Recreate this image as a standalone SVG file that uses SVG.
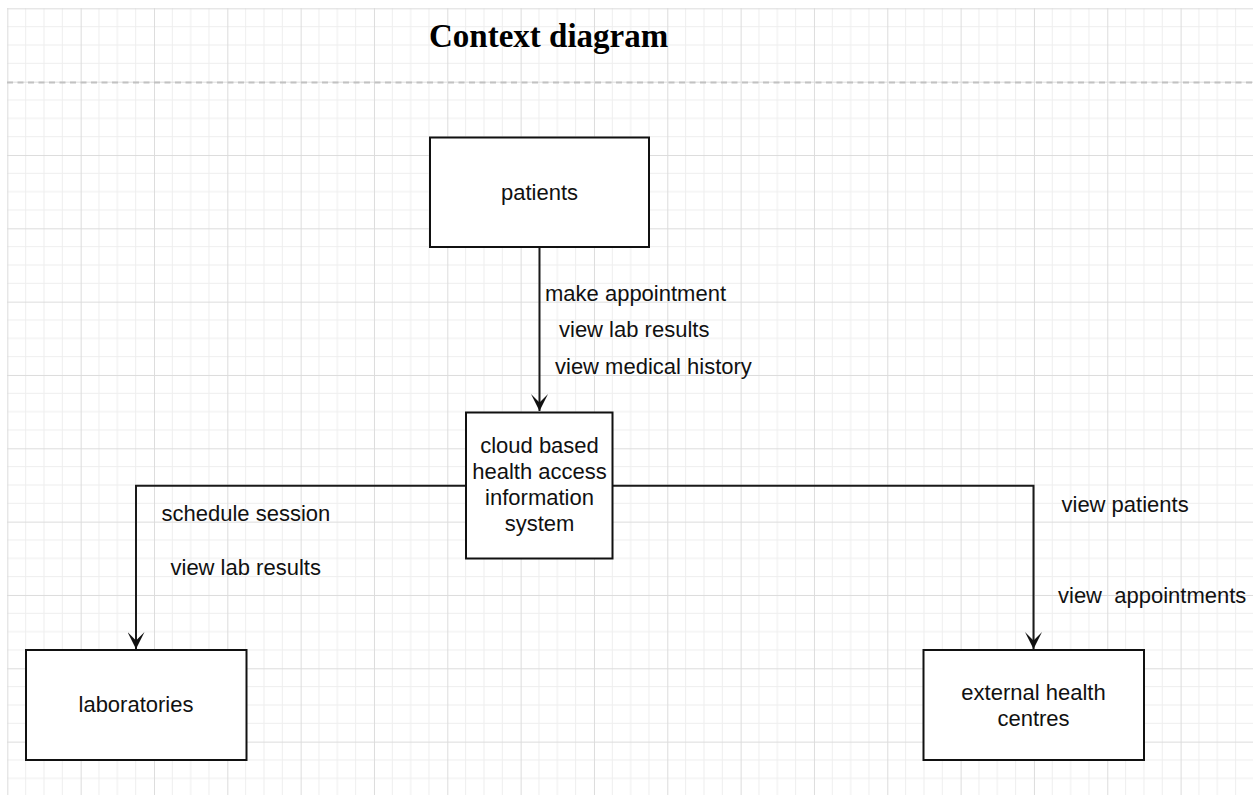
<svg xmlns="http://www.w3.org/2000/svg" width="1253" height="795" viewBox="0 0 1253 795">
  <style>
    .box { fill: #ffffff; stroke: #111111; stroke-width: 2; }
    .edge { fill: none; stroke: #1a1a1a; stroke-width: 2; }
    .lbl { font-family: "Liberation Sans", Arial, sans-serif; font-size: 22px; fill: #111111; white-space: pre; }
    .mid { text-anchor: middle; }
    .title { font-family: "Liberation Serif", "Times New Roman", serif; font-size: 33px; font-weight: bold; fill: #000000; }
  </style>
  <defs>
    <pattern id="grid" patternUnits="userSpaceOnUse" x="7.33" y="8.33" width="73.33" height="73.33">
      <path d="M18.33 0V73.33M36.67 0V73.33M55 0V73.33M0 18.33H73.33M0 36.67H73.33M0 55H73.33" stroke="#eeeeee" stroke-width="1" fill="none"/>
      <path d="M0.5 0V73.33M0 0.5H73.33" stroke="#dcdcdc" stroke-width="1" fill="none"/>
    </pattern>
    <marker id="arrow" viewBox="0 0 18 17" refX="17" refY="8.5" markerWidth="18" markerHeight="17" markerUnits="userSpaceOnUse" orient="auto">
      <path d="M0 0L17 8.5L0 17L8.5 8.5Z" fill="#111111"/>
    </marker>
  </defs>
  <rect width="1253" height="795" fill="#ffffff"/>
  <rect x="7" y="8" width="1246" height="787" fill="url(#grid)"/>
  <line x1="7" y1="82.5" x2="1253" y2="82.5" stroke="#c2c2c2" stroke-width="1.8" stroke-dasharray="6 4.5"/>
  <text class="title" x="429" y="47">Context diagram</text>

  <g id="connectors">
    <path class="edge" d="M539.5 247V411" marker-end="url(#arrow)"/>
    <path class="edge" d="M466 485.7H136V649" marker-end="url(#arrow)"/>
    <path class="edge" d="M613 485.7H1033.5V649" marker-end="url(#arrow)"/>
    <text class="lbl" x="545" y="301">make appointment</text>
    <text class="lbl" x="559" y="337">view lab results</text>
    <text class="lbl" x="555" y="374">view medical history</text>
    <text class="lbl" x="161.5" y="521">schedule session</text>
    <text class="lbl" x="170.5" y="575">view lab results</text>
    <text class="lbl" x="1061.5" y="512">view patients</text>
    <text class="lbl" x="1058" y="603">view  appointments</text>
  </g>

  <g id="patients">
    <rect class="box" x="430" y="137.5" width="219" height="109.5"/>
    <text class="lbl mid" x="539.5" y="200">patients</text>
  </g>
  <g id="system">
    <rect class="box" x="466" y="412.5" width="146.5" height="146"/>
    <text class="lbl mid" x="539.5" y="452.5">cloud based</text>
    <text class="lbl mid" x="539.5" y="478.5">health access</text>
    <text class="lbl mid" x="539.5" y="505">information</text>
    <text class="lbl mid" x="539.5" y="531">system</text>
  </g>
  <g id="laboratories">
    <rect class="box" x="26" y="650" width="220.5" height="110"/>
    <text class="lbl mid" x="136" y="712">laboratories</text>
  </g>
  <g id="external">
    <rect class="box" x="923.5" y="650" width="220.5" height="110"/>
    <text class="lbl mid" x="1033.5" y="699.5">external health</text>
    <text class="lbl mid" x="1033.5" y="725.5">centres</text>
  </g>
</svg>
